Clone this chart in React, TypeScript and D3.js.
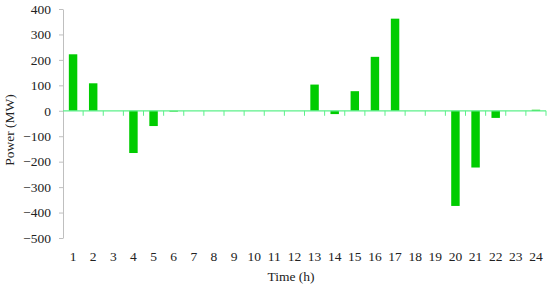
import React, { useRef, useEffect } from "react";
import * as d3 from "d3";

// hours 1..24
const hours: string[] = d3.range(1, 25).map((h) => String(h));
// power exchange per hour (MW)
const power: number[] = [
  222, 108, 0, -166, -60, -3, 0, 0, 0, 0, 0, 0,
  103, -13, 77, 212, 362, 0, 0, -374, -223, -28, 0, 4,
];
const yTicks: number[] = [400, 300, 200, 100, 0, -100, -200, -300, -400, -500];

const App = () => {
  const ref = useRef<SVGSVGElement>(null);

  useEffect(() => {
    if (!ref.current) return;
    const width = 550;
    const height = 288;
    const margin = { top: 9, right: 4, bottom: 50, left: 63 };

    const svg = d3.select(ref.current);
    svg.selectAll("*").remove();

    const x = d3
      .scaleBand()
      .domain(hours)
      .range([margin.left, width - margin.right])
      .paddingInner(0.58)
      .paddingOuter(0.29);
    const band = d3
      .scaleBand()
      .domain(hours)
      .range([margin.left, width - margin.right]);
    const y = d3
      .scaleLinear()
      .domain([-500, 400])
      .range([height - margin.bottom, margin.top]);

    const font = "'Liberation Serif', serif";

    // y axis (grey line, ticks on the left)
    const yAxis = svg
      .append("g")
      .attr("transform", `translate(${margin.left},0)`)
      .call(d3.axisLeft(y).tickValues(yTicks).tickSize(4).tickSizeOuter(0).tickPadding(8));
    yAxis.select(".domain").attr("stroke", "#bfbfbf");
    yAxis.selectAll(".tick line").attr("stroke", "#bfbfbf");
    yAxis
      .selectAll(".tick text")
      .attr("fill", "#222")
      .style("font-family", font)
      .style("font-size", "13.5px");

    // bars
    svg
      .append("g")
      .selectAll("rect")
      .data(power)
      .join("rect")
      .attr("x", (d, i) => x(hours[i]) as number)
      .attr("width", x.bandwidth())
      .attr("y", (d) => y(Math.max(0, d)))
      .attr("height", (d) => Math.abs(y(d) - y(0)))
      .attr("fill", "#00cc00");

    // zero line with boundary ticks
    const zero = svg.append("g");
    zero
      .append("line")
      .attr("x1", margin.left)
      .attr("x2", width - margin.right)
      .attr("y1", y(0))
      .attr("y2", y(0))
      .attr("stroke", "#5cf08a")
      .attr("stroke-width", 1.2);
    const bounds = [...hours.map((h) => band(h) as number), width - margin.right];
    zero
      .selectAll("line.b")
      .data(bounds.slice(1))
      .join("line")
      .attr("class", "b")
      .attr("x1", (d) => d)
      .attr("x2", (d) => d)
      .attr("y1", y(0))
      .attr("y2", y(0) + 5)
      .attr("stroke", "#5cf08a");

    // x labels at bottom
    svg
      .append("g")
      .selectAll("text")
      .data(hours)
      .join("text")
      .attr("x", (d) => (band(d) as number) + band.bandwidth() / 2)
      .attr("y", 261)
      .attr("text-anchor", "middle")
      .attr("fill", "#222")
      .style("font-family", font)
      .style("font-size", "13.5px")
      .text((d) => d);

    svg
      .append("text")
      .attr("x", 291)
      .attr("y", 281)
      .attr("text-anchor", "middle")
      .attr("fill", "#222")
      .style("font-family", font)
      .style("font-size", "13.5px")
      .text("Time (h)");

    svg
      .append("text")
      .attr("transform", "translate(14,130) rotate(-90)")
      .attr("text-anchor", "middle")
      .attr("fill", "#222")
      .style("font-family", font)
      .style("font-size", "13.5px")
      .text("Power (MW)");
  }, []);

  return (
    <svg
      ref={ref}
      width={550}
      height={288}
      style={{ position: "absolute", left: 0, top: 0, background: "#fff" }}
    />
  );
};

export default App;
